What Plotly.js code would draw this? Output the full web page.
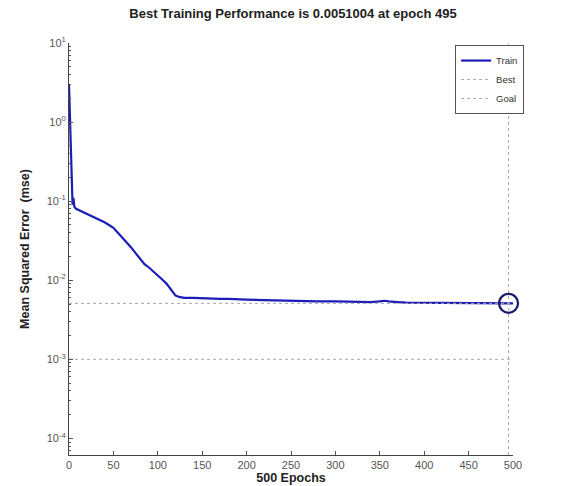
<!DOCTYPE html>
<html>
<head>
<meta charset="utf-8">
<script src="https://cdn.plot.ly/plotly-3.0.1.min.js"></script>
<style>html,body{margin:0;padding:0;background:#fff;}#chart{width:586px;height:486px;}</style>
</head>
<body>
<div id="chart"></div>
<script>
// Training performance (mse)
const epochs = [0, 1, 2, 3, 4, 5, 6, 8, 10, 15, 20, 25, 30, 35, 40, 45, 50, 55, 60, 65, 70, 75, 80, 85, 90, 95, 100, 105, 110, 115, 120, 125, 130, 140, 150, 160, 170, 180, 190, 200, 220, 240, 260, 280, 300, 320, 340, 350, 355, 360, 365, 370, 380, 400, 420, 440, 460, 480, 490, 495, 500];
const trainMse = [3.0, 1.1, 0.3, 0.13, 0.09, 0.11, 0.085, 0.08, 0.078, 0.074, 0.07, 0.066, 0.062, 0.058, 0.054, 0.050, 0.046, 0.040, 0.035, 0.030, 0.026, 0.022, 0.019, 0.016, 0.0145, 0.013, 0.0115, 0.0102, 0.0090, 0.0076, 0.0064, 0.0061, 0.0060, 0.0060, 0.0059, 0.0059, 0.0058, 0.0058, 0.0057, 0.0057, 0.0056, 0.0055, 0.0055, 0.0054, 0.0054, 0.0053, 0.0053, 0.0054, 0.0055, 0.0054, 0.0053, 0.0053, 0.0052, 0.0052, 0.0052, 0.0052, 0.0051, 0.0051, 0.0051, 0.0051004, 0.0051];
const bestEpoch = 495;
const bestValue = 0.0051004;
const goalValue = 0.001;
const yTickVals = [1e-4, 1e-3, 1e-2, 1e-1, 1, 10];
const yTickText = ['10<sup>-4</sup>', '10<sup>-3</sup>', '10<sup>-2</sup>', '10<sup>-1</sup>', '10<sup>0</sup>', '10<sup>1</sup>'];
const xTickVals = [0, 50, 100, 150, 200, 250, 300, 350, 400, 450, 500];

const yMinor = [];
for (let k = -5; k <= 0; k++) for (let m = 2; m <= 9; m++) yMinor.push(m * Math.pow(10, k));

const xRange = [0, 500];
const yRange = [-4.21, 1];

const traces = [
  {x: epochs, y: trainMse, mode: 'lines', name: 'Train', line: {color: '#1c1cb8', width: 2.2}},
  {x: xRange, y: [bestValue, bestValue], mode: 'lines', name: 'Best', line: {color: '#a8a8a8', width: 1, dash: 'dot'}},
  {x: xRange, y: [goalValue, goalValue], mode: 'lines', name: 'Goal', line: {color: '#a8a8a8', width: 1, dash: 'dot'}},
  {x: [bestEpoch, bestEpoch], y: [Math.pow(10, yRange[0]), 10], mode: 'lines', showlegend: false, line: {color: '#a8a8a8', width: 1, dash: 'dot'}},
  {x: [bestEpoch], y: [bestValue], mode: 'markers', showlegend: false, cliponaxis: false,
   marker: {symbol: 'circle-open', size: 19, color: '#1a1a70', line: {width: 2.2, color: '#1a1a70'}}}
];

const layout = {
  width: 586, height: 486,
  margin: {l: 69, r: 73, t: 43, b: 31},
  paper_bgcolor: '#fff', plot_bgcolor: '#fff',
  font: {family: 'Liberation Sans, Arial, sans-serif', color: '#333'},
  title: {text: '<b>Best Training Performance is 0.0051004 at epoch 495</b>', font: {size: 13, color: '#222'}, x: 0.5, xanchor: 'center', y: 0.972, yanchor: 'middle'},
  showlegend: true,
  legend: {x: 1.025, xanchor: 'right', y: 0.995, yanchor: 'top', bgcolor: '#fff', bordercolor: '#555', borderwidth: 1,
           font: {size: 9.5, color: '#333'}, tracegroupgap: 0, itemwidth: 30},
  xaxis: {type: 'linear', range: xRange, tickmode: 'array', tickvals: xTickVals,
          ticks: 'inside', ticklen: 4, tickcolor: '#555', showline: true, linecolor: '#444', linewidth: 1,
          showgrid: false, zeroline: false, tickfont: {size: 11, color: '#555'},
          title: {text: '<b>500 Epochs</b>', font: {size: 12.5, color: '#222'}, standoff: 0}},
  yaxis: {type: 'log', range: yRange, tickmode: 'array', tickvals: yTickVals, ticktext: yTickText,
          ticks: 'inside', ticklen: 4, tickcolor: '#555', showline: true, linecolor: '#444', linewidth: 1,
          showgrid: false, zeroline: false, tickfont: {size: 11, color: '#555'},
          minor: {tickmode: 'array', tickvals: yMinor, ticks: 'inside', ticklen: 2, tickcolor: '#555', showgrid: false},
          title: {text: '<b>Mean Squared Error  (mse)</b>', font: {size: 12.5, color: '#222'}, standoff: 14}}
};

Plotly.newPlot('chart', traces, layout, {displayModeBar: false, staticPlot: true});
</script>
</body>
</html>
